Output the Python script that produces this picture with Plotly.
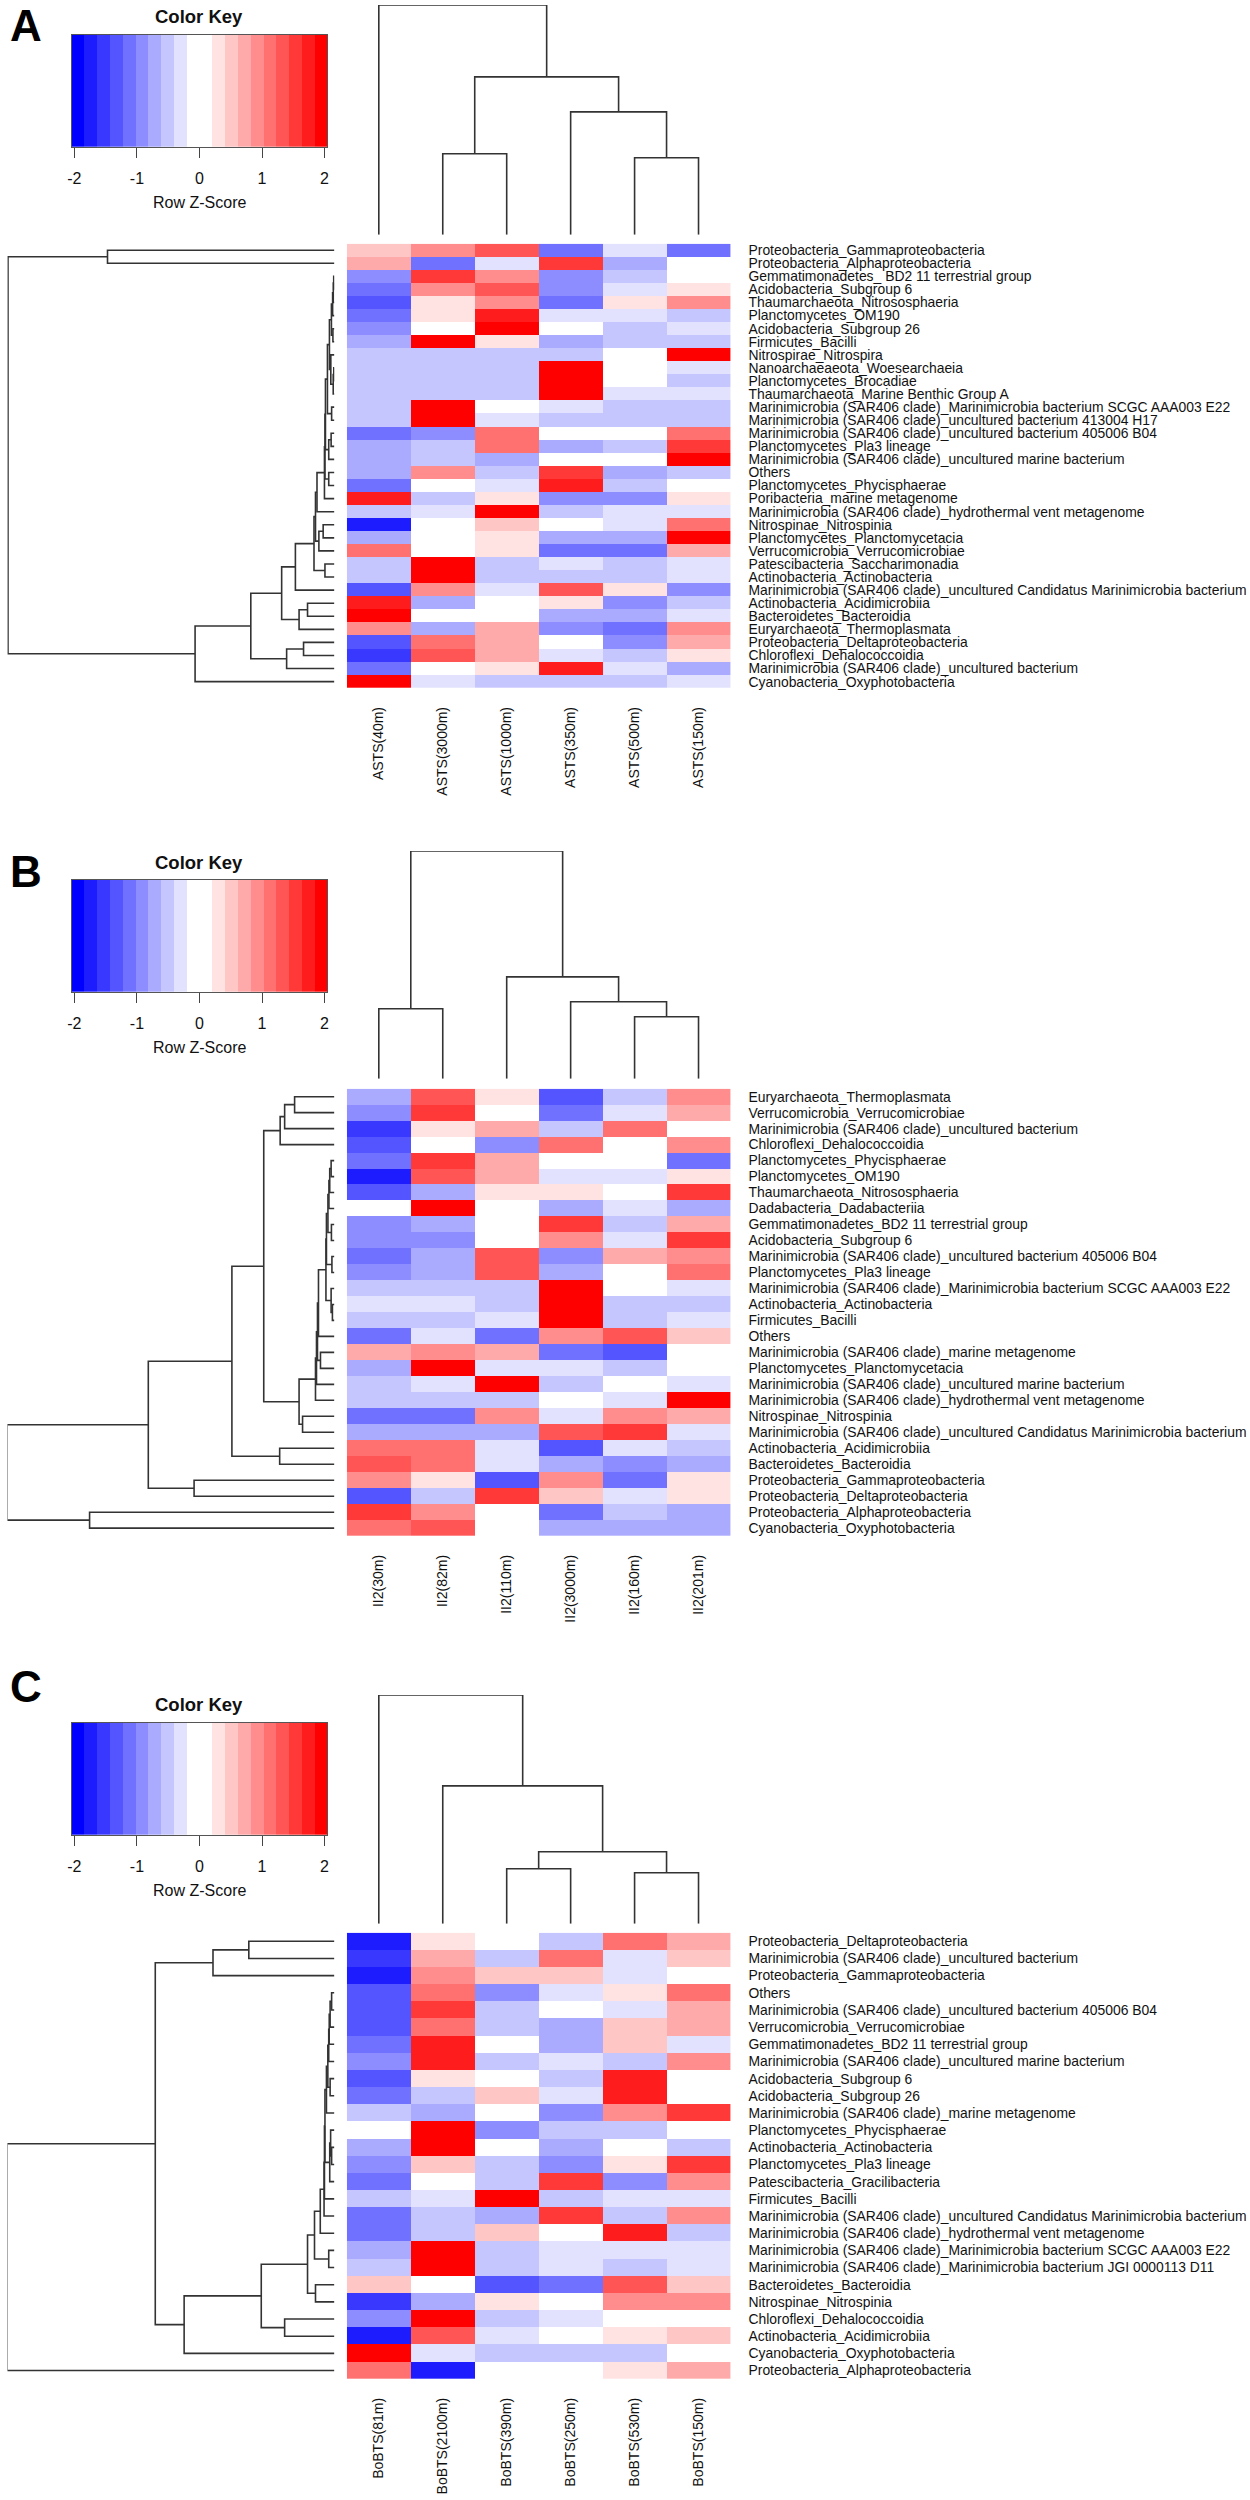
import plotly.graph_objects as go

# ---------- shared data ----------
key_values = [-1.9, -1.7, -1.5, -1.3, -1.1, -0.9, -0.7, -0.5, -0.3, -0.1,
              0.1, 0.3, 0.5, 0.7, 0.9, 1.1, 1.3, 1.5, 1.7, 1.9]
key_edges = [-2.043, -1.839, -1.634, -1.430, -1.225, -1.021, -0.816, -0.612, -0.407, -0.203, 0.002,
             0.206, 0.411, 0.615, 0.820, 1.024, 1.229, 1.433, 1.638, 1.842, 2.046]
key_ticks = [-2, -1, 0, 1, 2]
key_colors = ["#0000FF", "#1C1CFF", "#3838FF", "#5555FF", "#7171FF", "#8D8DFF", "#AAAAFF", "#C6C6FF", "#E2E2FF", "#FFFFFF",
              "#FFFFFF", "#FFE2E2", "#FFC6C6", "#FFAAAA", "#FF8D8D", "#FF7171", "#FF5555", "#FF3838", "#FF1C1C", "#FF0000"]

M = "Marinimicrobia (SAR406 clade)_"

# ---------- panel A ----------
cols_a = ["ASTS(40m)", "ASTS(3000m)", "ASTS(1000m)", "ASTS(350m)", "ASTS(500m)", "ASTS(150m)"]
rows_a = ["Proteobacteria_Gammaproteobacteria", "Proteobacteria_Alphaproteobacteria",
          "Gemmatimonadetes_ BD2 11 terrestrial group", "Acidobacteria_Subgroup 6",
          "Thaumarchaeota_Nitrososphaeria", "Planctomycetes_OM190", "Acidobacteria_Subgroup 26",
          "Firmicutes_Bacilli", "Nitrospirae_Nitrospira", "Nanoarchaeaeota_Woesearchaeia",
          "Planctomycetes_Brocadiae", "Thaumarchaeota_Marine Benthic Group A",
          M + "Marinimicrobia bacterium SCGC AAA003 E22", M + "uncultured bacterium 413004 H17",
          M + "uncultured bacterium 405006 B04", "Planctomycetes_Pla3 lineage",
          M + "uncultured marine bacterium", "Others", "Planctomycetes_Phycisphaerae",
          "Poribacteria_marine metagenome", M + "hydrothermal vent metagenome",
          "Nitrospinae_Nitrospinia", "Planctomycetes_Planctomycetacia", "Verrucomicrobia_Verrucomicrobiae",
          "Patescibacteria_Saccharimonadia", "Actinobacteria_Actinobacteria",
          M + "uncultured Candidatus Marinimicrobia bacterium", "Actinobacteria_Acidimicrobiia",
          "Bacteroidetes_Bacteroidia", "Euryarchaeota_Thermoplasmata", "Proteobacteria_Deltaproteobacteria",
          "Chloroflexi_Dehalococcoidia", M + "uncultured bacterium", "Cyanobacteria_Oxyphotobacteria"]
z_a = [
    [0.5, 0.9, 1.3, -1.1, -0.3, -1.1],
    [0.7, -1.1, -0.3, 1.5, -0.7, 0],
    [-0.9, 1.5, 0.9, -0.9, -0.5, 0],
    [-1.1, 0.9, 1.3, -0.9, -0.3, 0.3],
    [-1.3, 0.3, 0.9, -1.1, 0.3, 0.9],
    [-1.1, 0.3, 1.7, -0.3, -0.3, -0.5],
    [-0.9, 0, 1.9, 0, -0.5, -0.3],
    [-0.7, 1.9, 0.3, -0.7, -0.5, -0.5],
    [-0.5, -0.5, -0.5, -0.5, 0, 1.9],
    [-0.5, -0.5, -0.5, 1.9, 0, -0.3],
    [-0.5, -0.5, -0.5, 1.9, 0, -0.5],
    [-0.5, -0.5, -0.5, 1.9, -0.3, -0.3],
    [-0.5, 1.9, 0, -0.3, -0.5, -0.5],
    [-0.5, 1.9, -0.3, -0.5, -0.5, -0.5],
    [-1.1, -0.9, 1.1, 0, 0, 1.1],
    [-0.7, -0.5, 1.1, -0.7, -0.5, 1.5],
    [-0.7, -0.5, -0.7, 0, 0, 1.9],
    [-0.7, 0.9, -0.5, 1.5, -0.7, -0.5],
    [-1.1, 0, -0.3, 1.7, -0.5, 0],
    [1.7, -0.5, 0.3, -0.9, -0.9, 0.3],
    [-0.5, -0.3, 1.9, -0.5, -0.3, -0.3],
    [-1.7, 0, 0.5, 0, -0.3, 1.1],
    [-0.7, 0, 0.3, -0.7, -0.7, 1.9],
    [1.1, 0, 0.3, -1.1, -1.1, 0.7],
    [-0.5, 1.9, -0.5, -0.3, -0.5, -0.3],
    [-0.5, 1.9, -0.5, -0.5, -0.5, -0.3],
    [-1.3, 0.9, -0.3, 1.3, 0.3, -0.9],
    [1.7, -0.7, 0, 0.3, -0.9, -0.5],
    [1.9, 0, 0, -0.7, -0.7, -0.3],
    [0.9, -0.7, 0.7, -0.9, -1.1, 0.9],
    [-1.3, 1.1, 0.7, 0, -0.9, 0.7],
    [-1.5, 1.3, 0.7, -0.3, -0.5, 0.3],
    [-1.1, 0, 0.3, 1.7, -0.3, -0.7],
    [1.9, -0.3, -0.5, -0.5, -0.5, -0.3],
]
# dendrograms: (left, right, merge height); an integer is a leaf number
t = ((3, 4, 0.7), 5, 1.1)
t = (t, 6, 1.8)
t = (t, (7, 8, 1.5), 3.0)
t = (t, (((10, 11, 0.6), 12, 1.2), 9, 3.6), 5.0)
t = (t, (13, 14, 2.8), 7.0)
t = (t, ((15, 16, 3.3), 17, 5.7), 9.0)
t = (t, (18, 19, 5.7), 9.5)
t = (t, 20, 10.0)
t = (t, 21, 17.5)
t = (t, ((22, 23, 11.3), 24, 15.6), 19.0)
t = (t, (25, 26, 9.5), 20.5)
t = (t, 27, 39.2)
t = (t, ((28, 29, 27), 30, 35.5), 53)
t = (t, ((31, 32, 31), 33, 48), 84)
t = (t, 34, 140)
row_tree_a = ((1, 2, 228), t, 328)
col_tree_a = (1, ((2, 3, 81), (4, (5, 6, 77), 123), 158), 230)

# ---------- panel B ----------
cols_b = ["II2(30m)", "II2(82m)", "II2(110m)", "II2(3000m)", "II2(160m)", "II2(201m)"]
rows_b = ["Euryarchaeota_Thermoplasmata", "Verrucomicrobia_Verrucomicrobiae", M + "uncultured bacterium",
          "Chloroflexi_Dehalococcoidia", "Planctomycetes_Phycisphaerae", "Planctomycetes_OM190",
          "Thaumarchaeota_Nitrososphaeria", "Dadabacteria_Dadabacteriia", "Gemmatimonadetes_BD2 11 terrestrial group",
          "Acidobacteria_Subgroup 6", M + "uncultured bacterium 405006 B04", "Planctomycetes_Pla3 lineage",
          M + "Marinimicrobia bacterium SCGC AAA003 E22", "Actinobacteria_Actinobacteria", "Firmicutes_Bacilli",
          "Others", M + "marine metagenome", "Planctomycetes_Planctomycetacia", M + "uncultured marine bacterium",
          M + "hydrothermal vent metagenome", "Nitrospinae_Nitrospinia",
          M + "uncultured Candidatus Marinimicrobia bacterium", "Actinobacteria_Acidimicrobiia",
          "Bacteroidetes_Bacteroidia", "Proteobacteria_Gammaproteobacteria", "Proteobacteria_Deltaproteobacteria",
          "Proteobacteria_Alphaproteobacteria", "Cyanobacteria_Oxyphotobacteria"]
z_b = [
    [-0.7, 1.3, 0.3, -1.3, -0.5, 0.9],
    [-0.9, 1.5, 0, -1.1, -0.3, 0.7],
    [-1.5, 0.3, 0.7, -0.5, 1.1, 0],
    [-1.3, 0, -0.9, 1.1, 0, 0.9],
    [-1.1, 1.5, 0.7, 0, 0, -1.1],
    [-1.7, 1.3, 0.7, -0.3, -0.3, 0.3],
    [-1.3, -0.7, 0.3, 0.3, 0, 1.5],
    [0, 1.9, 0, -0.7, -0.3, -0.7],
    [-0.9, -0.7, 0, 1.5, -0.5, 0.7],
    [-0.9, -0.9, 0, 0.9, -0.3, 1.5],
    [-1.1, -0.7, 1.3, -0.9, 0.7, 0.9],
    [-0.9, -0.7, 1.3, -0.7, 0, 1.1],
    [-0.5, -0.5, -0.5, 1.9, 0, -0.3],
    [-0.3, -0.3, -0.5, 1.9, -0.5, -0.5],
    [-0.5, -0.5, -0.3, 1.9, -0.5, -0.3],
    [-1.1, -0.3, -1.1, 0.9, 1.3, 0.5],
    [0.7, 0.9, 0.7, -1.1, -1.3, 0],
    [-0.7, 1.9, -0.3, -0.3, -0.5, 0],
    [-0.5, -0.3, 1.9, -0.5, 0, -0.3],
    [-0.5, -0.5, -0.5, 0, -0.3, 1.9],
    [-1.1, -1.1, 0.9, -0.3, 0.9, 0.7],
    [-0.7, -0.7, -0.7, 1.3, 1.5, -0.3],
    [1.1, 1.1, -0.3, -1.3, -0.3, -0.5],
    [1.3, 1.1, -0.3, -0.7, -0.9, -0.7],
    [0.9, 0.3, -1.3, 0.9, -1.1, 0.3],
    [-1.3, -0.5, 1.5, 0.5, -0.3, 0.3],
    [1.5, 0.9, 0, -1.1, -0.5, -0.7],
    [1.1, 1.3, 0, -0.7, -0.7, -0.7],
]
t = ((5, 6, 3.3), 7, 4.7)
t = (t, 8, 5.5)
t = (t, (9, 10, 3.0), 6.5)
t = (t, (11, 12, 2.5), 8.0)
t = (t, (13, (14, 15, 2.0), 3.3), 8.5)
t = (t, 16, 16)
t = (t, (17, 18, 14), 17)
t = (t, 19, 18)
t = (t, 20, 19)
t = (t, (21, 22, 32), 35.5)
t = (t, (((1, 2, 40), 3, 50), 4, 54.5), 71)
t = (t, (23, 24, 55), 103)
t = (t, (25, 26, 141), 187)
row_tree_b = (t, (27, 28, 246), 329)
col_tree_b = ((1, 2, 70), (3, (4, (5, 6, 62), 77), 102), 228)

# ---------- panel C ----------
cols_c = ["BoBTS(81m)", "BoBTS(2100m)", "BoBTS(390m)", "BoBTS(250m)", "BoBTS(530m)", "BoBTS(150m)"]
rows_c = ["Proteobacteria_Deltaproteobacteria", M + "uncultured bacterium", "Proteobacteria_Gammaproteobacteria",
          "Others", M + "uncultured bacterium 405006 B04", "Verrucomicrobia_Verrucomicrobiae",
          "Gemmatimonadetes_BD2 11 terrestrial group", M + "uncultured marine bacterium", "Acidobacteria_Subgroup 6",
          "Acidobacteria_Subgroup 26", M + "marine metagenome", "Planctomycetes_Phycisphaerae",
          "Actinobacteria_Actinobacteria", "Planctomycetes_Pla3 lineage", "Patescibacteria_Gracilibacteria",
          "Firmicutes_Bacilli", M + "uncultured Candidatus Marinimicrobia bacterium", M + "hydrothermal vent metagenome",
          M + "Marinimicrobia bacterium SCGC AAA003 E22", M + "Marinimicrobia bacterium JGI 0000113 D11",
          "Bacteroidetes_Bacteroidia", "Nitrospinae_Nitrospinia", "Chloroflexi_Dehalococcoidia",
          "Actinobacteria_Acidimicrobiia", "Cyanobacteria_Oxyphotobacteria", "Proteobacteria_Alphaproteobacteria"]
z_c = [
    [-1.7, 0.3, 0, -0.5, 1.1, 0.7],
    [-1.5, 0.7, -0.5, 1.1, -0.3, 0.5],
    [-1.7, 0.9, 0.5, 0.5, -0.3, 0],
    [-1.3, 1.1, -0.9, -0.3, 0.3, 1.1],
    [-1.3, 1.5, -0.5, 0, -0.3, 0.7],
    [-1.3, 1.1, -0.5, -0.7, 0.5, 0.7],
    [-1.1, 1.7, 0, -0.7, 0.5, -0.3],
    [-0.9, 1.7, -0.5, -0.3, -0.5, 0.9],
    [-1.3, 0.3, 0, -0.5, 1.7, 0],
    [-1.1, -0.5, 0.5, -0.3, 1.7, 0],
    [-0.5, -0.7, 0, -0.9, 0.9, 1.5],
    [0, 1.9, -0.9, -0.5, -0.5, 0],
    [-0.7, 1.9, 0, -0.7, 0, -0.5],
    [-0.9, 0.5, -0.5, -0.9, 0.3, 1.5],
    [-1.1, 0, -0.5, 1.5, -0.9, 0.9],
    [-0.5, -0.3, 1.9, -0.5, -0.3, -0.3],
    [-1.1, -0.5, -0.7, 1.5, -0.5, 0.9],
    [-1.1, -0.5, 0.5, 0, 1.7, -0.5],
    [-0.7, 1.9, -0.5, -0.3, -0.3, -0.3],
    [-0.5, 1.9, -0.5, -0.3, -0.5, -0.3],
    [0.5, 0, -1.3, -1.1, 1.3, 0.5],
    [-1.5, -0.7, 0.3, 0, 0.9, 0.9],
    [-0.9, 1.9, -0.5, -0.3, 0, 0],
    [-1.7, 1.3, -0.3, 0, 0.3, 0.5],
    [1.9, -0.3, -0.5, -0.5, -0.5, 0],
    [1.1, -1.7, 0, 0, 0.3, 0.7],
]
t = ((4, 5, 2.8), 6, 4.3)
t = (t, 7, 5.2)
t = (t, 8, 5.7)
t = (t, (9, 10, 4.3), 6.6)
t = (t, 11, 8.0)
t = (t, ((12, (13, 14, 2.8), 3.8), 15, 4.7), 9.5)
t = (t, 16, 10)
t = (t, 17, 10.4)
t = (t, 18, 14.2)
t = (t, (19, 20, 5.7), 20)
t = (t, (21, 22, 19), 27)
t = (t, (23, 24, 50), 73.5)
t = (t, 25, 151)
t = (((1, 2, 86), 3, 122), t, 180)
row_tree_c = (t, 26, 329)
col_tree_c = (1, (2, ((3, 4, 55), (5, 6, 51), 72), 138), 229)

PANELS = [
    dict(letter="A", letter_y=24, title_y=15, key=(33, 145), dendro=(3, 233), heat=(242, 687),
         rows=rows_a, cols=cols_a, z=z_a, rtree=row_tree_a, ctree=col_tree_a, chmax=230),
    dict(letter="B", letter_y=871, title_y=862, key=(879, 991), dendro=(850, 1078), heat=(1088, 1536),
         rows=rows_b, cols=cols_b, z=z_b, rtree=row_tree_b, ctree=col_tree_b, chmax=228),
    dict(letter="C", letter_y=1687, title_y=1705, key=(1723, 1835), dendro=(1695, 1924), heat=(1933, 2380),
         rows=rows_c, cols=cols_c, z=z_c, rtree=row_tree_c, ctree=col_tree_c, chmax=229),
]

W, H = 1250, 2500
FONT = "Liberation Sans, Arial, sans-serif"
LINE = "#333333"
colorscale = []
for i, c in enumerate(key_colors):
    colorscale += [[i / 20, c], [(i + 1) / 20, c]]


def px(x):
    return x / W


def py(y):
    return 1 - y / H


def segments(node):
    """Return (position, height, xs, ys) for a dendrogram node; gaps are None."""
    if isinstance(node, int):
        return node, 0, [], []
    pa, ha, xa, ya = segments(node[0])
    pb, hb, xb, yb = segments(node[1])
    h = node[2]
    pos = xa + xb + [pa, pa, pb, pb, None]
    hts = ya + yb + [ha, h, h, hb, None]
    return (pa + pb) / 2, h, pos, hts


fig = go.Figure()
layout = {}
ann = []
axis_n = 0
hidden = dict(visible=False, fixedrange=True)


def new_axes():
    global axis_n
    axis_n += 1
    s = "" if axis_n == 1 else str(axis_n)
    return "x" + s, "y" + s, "xaxis" + s, "yaxis" + s


for p in PANELS:
    n = len(p["rows"])
    # colour key
    xa, ya, xk, yk = new_axes()
    fig.add_trace(go.Heatmap(z=[key_values], x=key_edges, y=[0, 1], xaxis=xa, yaxis=ya, zmin=-2, zmax=2,
                             colorscale=colorscale, showscale=False, hoverinfo="skip"))
    layout[xk] = dict(domain=[px(68), px(325)], range=[-2.043, 2.046], anchor=ya, tickmode="array",
                      tickvals=key_ticks, ticktext=[str(v) for v in key_ticks], ticks="outside", ticklen=10,
                      tickcolor="#444444", tickwidth=1.3, showline=True, linecolor="#555555", linewidth=1, mirror=True,
                      showgrid=False, zeroline=False, ticklabelstandoff=7, tickfont=dict(size=16, family=FONT, color="#111111"))
    layout[yk] = dict(domain=[py(p["key"][1]), py(p["key"][0])], range=[0, 1], anchor=xa, showticklabels=False,
                      ticks="", showline=True, linecolor="#555555", linewidth=1, mirror=True, showgrid=False, zeroline=False)
    ann.append(dict(text="<b>Color Key</b>", x=px(196), y=py(p["title_y"]), xref="paper", yref="paper",
                    showarrow=False, xanchor="center", yanchor="middle", font=dict(size=18.5, family=FONT, color="#111111")))
    ann.append(dict(text="Row Z-Score", x=px(196), y=py(p["key"][1] + 56), xref="paper", yref="paper",
                    showarrow=False, xanchor="center", yanchor="middle", font=dict(size=16, family=FONT, color="#111111")))
    ann.append(dict(text="<b>%s</b>" % p["letter"], x=px(22), y=py(p["letter_y"]), xref="paper", yref="paper",
                    showarrow=False, xanchor="center", yanchor="middle", font=dict(size=44, family=FONT, color="#000000")))

    # column dendrogram
    xa, ya, xk, yk = new_axes()
    _, _, cx, cy = segments(p["ctree"])
    fig.add_trace(go.Scatter(x=cx, y=cy, mode="lines", xaxis=xa, yaxis=ya, hoverinfo="skip", showlegend=False,
                             line=dict(color=LINE, width=1.6)))
    layout[xk] = dict(domain=[px(344.5), px(730)], range=[0.5, 6.5], anchor=ya, **hidden)
    layout[yk] = dict(domain=[py(p["dendro"][1]), py(p["dendro"][0])], range=[0, p["chmax"]], anchor=xa, **hidden)

    # row dendrogram
    xa, ya, xk, yk = new_axes()
    _, _, rp, rh = segments(p["rtree"])
    fig.add_trace(go.Scatter(x=rh, y=rp, mode="lines", xaxis=xa, yaxis=ya, hoverinfo="skip", showlegend=False,
                             line=dict(color=LINE, width=1.6)))
    layout[xk] = dict(domain=[px(3.5), px(332)], range=[328.5, 0], anchor=ya, **hidden)
    layout[yk] = dict(domain=[py(p["heat"][1]), py(p["heat"][0])], range=[n + 0.5, 0.5], anchor=xa, **hidden)

    # heat map
    xa, ya, xk, yk = new_axes()
    fig.add_trace(go.Heatmap(z=p["z"], x=list(range(1, 7)), y=list(range(1, n + 1)), xaxis=xa, yaxis=ya,
                             zmin=-2, zmax=2, colorscale=colorscale, showscale=False, xgap=0, ygap=0))
    layout[xk] = dict(domain=[px(344.5), px(730)], range=[0.5, 6.5], anchor=ya, tickmode="array",
                      tickvals=list(range(1, 7)), ticktext=p["cols"], tickangle=-90, ticks="", showline=False,
                      showgrid=False, zeroline=False, ticklabelstandoff=15, tickfont=dict(size=14, family=FONT, color="#111111"))
    layout[yk] = dict(domain=[py(p["heat"][1]), py(p["heat"][0])], range=[n + 0.5, 0.5], anchor=xa, side="right",
                      tickmode="array", tickvals=list(range(1, n + 1)), ticktext=p["rows"], ticks="", showline=False,
                      showgrid=False, zeroline=False, ticklabelstandoff=17, tickfont=dict(size=13.9, family=FONT, color="#111111"))

fig.update_layout(width=W, height=H, margin=dict(l=0, r=0, t=0, b=0), paper_bgcolor="white", plot_bgcolor="white",
                  showlegend=False, annotations=ann, font=dict(family=FONT), **layout)
fig.write_html("out.html", config={"displayModeBar": False}, post_script="document.body.style.margin='0';")
